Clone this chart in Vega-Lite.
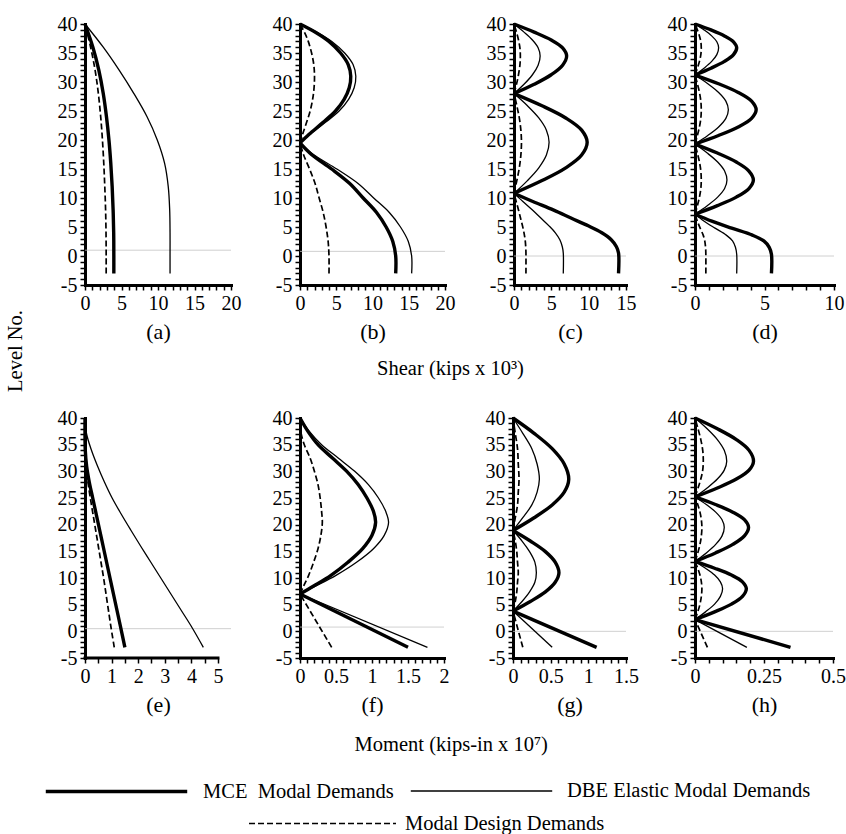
{
  "$schema": "https://vega.github.io/schema/vega-lite/v6.json",
  "padding": {"left": 5, "top": 14, "right": 5, "bottom": 5},
  "datasets": {
    "levels": [
      {"p":"a","g":0,"L":1},
      {"p":"a","g":1,"L":40,"MCE":0,"DBE":0,"Design":0},
      {"p":"a","g":1,"L":36,"MCE":1.08,"DBE":2.5,"Design":0.77},
      {"p":"a","g":1,"L":32,"MCE":1.9,"DBE":4.7,"Design":1.39},
      {"p":"a","g":1,"L":28,"MCE":2.5,"DBE":6.7,"Design":1.83},
      {"p":"a","g":1,"L":24,"MCE":2.94,"DBE":8.5,"Design":2.15},
      {"p":"a","g":1,"L":20,"MCE":3.28,"DBE":9.9,"Design":2.39},
      {"p":"a","g":1,"L":16,"MCE":3.53,"DBE":10.9,"Design":2.57},
      {"p":"a","g":1,"L":12,"MCE":3.72,"DBE":11.4,"Design":2.71},
      {"p":"a","g":1,"L":8,"MCE":3.85,"DBE":11.6,"Design":2.82},
      {"p":"a","g":1,"L":4,"MCE":3.93,"DBE":11.65,"Design":2.88},
      {"p":"a","g":1,"L":0,"MCE":3.95,"DBE":11.65,"Design":2.9},
      {"p":"a","g":1,"L":-3,"MCE":3.95,"DBE":11.65,"Design":2.9},

      {"p":"b","g":0,"L":0.8},
      {"p":"b","g":1,"L":40,"MCE":0,"DBE":0,"Design":0},
      {"p":"b","g":1,"L":38.5,"MCE":2.24,"DBE":2.46,"Design":0.64},
      {"p":"b","g":1,"L":37,"MCE":3.99,"DBE":4.39,"Design":1.14},
      {"p":"b","g":1,"L":35,"MCE":5.6,"DBE":6.16,"Design":1.6},
      {"p":"b","g":1,"L":33,"MCE":6.65,"DBE":7.32,"Design":1.9},
      {"p":"b","g":1,"L":31,"MCE":7,"DBE":7.7,"Design":2},
      {"p":"b","g":1,"L":29,"MCE":6.79,"DBE":7.47,"Design":1.94},
      {"p":"b","g":1,"L":27,"MCE":6.09,"DBE":6.7,"Design":1.74},
      {"p":"b","g":1,"L":25,"MCE":4.9,"DBE":5.39,"Design":1.4},
      {"p":"b","g":1,"L":23,"MCE":3.15,"DBE":3.47,"Design":0.9},
      {"p":"b","g":1,"L":21,"MCE":1.26,"DBE":1.39,"Design":0.36},
      {"p":"b","g":1,"L":19.5,"MCE":0,"DBE":0,"Design":0},
      {"p":"b","g":2,"L":19.5,"MCE":0,"DBE":0,"Design":0},
      {"p":"b","g":2,"L":17.5,"MCE":1.58,"DBE":1.85,"Design":0.48},
      {"p":"b","g":2,"L":15,"MCE":4.36,"DBE":5.08,"Design":1.32},
      {"p":"b","g":2,"L":12.5,"MCE":6.86,"DBE":8.01,"Design":2.08},
      {"p":"b","g":2,"L":10,"MCE":8.71,"DBE":10.16,"Design":2.64},
      {"p":"b","g":2,"L":7.5,"MCE":10.56,"DBE":12.32,"Design":3.2},
      {"p":"b","g":2,"L":5,"MCE":11.88,"DBE":13.86,"Design":3.6},
      {"p":"b","g":2,"L":2.5,"MCE":12.8,"DBE":14.94,"Design":3.88},
      {"p":"b","g":2,"L":0,"MCE":13.2,"DBE":15.4,"Design":4},
      {"p":"b","g":2,"L":-3,"MCE":13.2,"DBE":15.4,"Design":4},

      {"p":"c","g":0,"L":0},
      {"p":"c","g":1,"L":40,"MCE":0,"DBE":0,"Design":0},
      {"p":"c","g":1,"L":38.6,"MCE":2.7,"DBE":1.34,"Design":0.33},
      {"p":"c","g":1,"L":37.25,"MCE":4.98,"DBE":2.47,"Design":0.6},
      {"p":"c","g":1,"L":35.9,"MCE":6.51,"DBE":3.23,"Design":0.79},
      {"p":"c","g":1,"L":34.5,"MCE":7.05,"DBE":3.5,"Design":0.85},
      {"p":"c","g":1,"L":32.9,"MCE":6.51,"DBE":3.23,"Design":0.79},
      {"p":"c","g":1,"L":31.25,"MCE":4.98,"DBE":2.47,"Design":0.6},
      {"p":"c","g":1,"L":29.6,"MCE":2.7,"DBE":1.34,"Design":0.33},
      {"p":"c","g":1,"L":28,"MCE":0,"DBE":0,"Design":0},
      {"p":"c","g":2,"L":28,"MCE":0,"DBE":0,"Design":0},
      {"p":"c","g":2,"L":25.9,"MCE":3.75,"DBE":1.8,"Design":0.38},
      {"p":"c","g":2,"L":23.8,"MCE":6.93,"DBE":3.32,"Design":0.71},
      {"p":"c","g":2,"L":21.7,"MCE":9.06,"DBE":4.34,"Design":0.92},
      {"p":"c","g":2,"L":19.6,"MCE":9.8,"DBE":4.7,"Design":1},
      {"p":"c","g":2,"L":17.4,"MCE":9.06,"DBE":4.34,"Design":0.92},
      {"p":"c","g":2,"L":15.2,"MCE":6.93,"DBE":3.32,"Design":0.71},
      {"p":"c","g":2,"L":13,"MCE":3.75,"DBE":1.8,"Design":0.38},
      {"p":"c","g":2,"L":10.8,"MCE":0,"DBE":0,"Design":0},
      {"p":"c","g":3,"L":10.8,"MCE":0,"DBE":0,"Design":0},
      {"p":"c","g":3,"L":9.4,"MCE":2.52,"DBE":1.19,"Design":0.29},
      {"p":"c","g":3,"L":7.9,"MCE":5.32,"DBE":2.51,"Design":0.61},
      {"p":"c","g":3,"L":6.5,"MCE":7.7,"DBE":3.63,"Design":0.88},
      {"p":"c","g":3,"L":5.2,"MCE":9.94,"DBE":4.69,"Design":1.14},
      {"p":"c","g":3,"L":4,"MCE":11.76,"DBE":5.54,"Design":1.34},
      {"p":"c","g":3,"L":2.8,"MCE":13.02,"DBE":6.14,"Design":1.49},
      {"p":"c","g":3,"L":1.6,"MCE":13.72,"DBE":6.47,"Design":1.57},
      {"p":"c","g":3,"L":0.5,"MCE":14,"DBE":6.6,"Design":1.6},
      {"p":"c","g":3,"L":-3,"MCE":14,"DBE":6.6,"Design":1.6},

      {"p":"d","g":0,"L":0},
      {"p":"d","g":1,"L":40,"MCE":0,"DBE":0,"Design":0},
      {"p":"d","g":1,"L":38.98,"MCE":1.15,"DBE":0.65,"Design":0.17},
      {"p":"d","g":1,"L":37.95,"MCE":2.12,"DBE":1.2,"Design":0.32},
      {"p":"d","g":1,"L":36.93,"MCE":2.77,"DBE":1.57,"Design":0.42},
      {"p":"d","g":1,"L":35.9,"MCE":3,"DBE":1.7,"Design":0.45},
      {"p":"d","g":1,"L":34.72,"MCE":2.77,"DBE":1.57,"Design":0.42},
      {"p":"d","g":1,"L":33.55,"MCE":2.12,"DBE":1.2,"Design":0.32},
      {"p":"d","g":1,"L":32.38,"MCE":1.15,"DBE":0.65,"Design":0.17},
      {"p":"d","g":1,"L":31.2,"MCE":0,"DBE":0,"Design":0},
      {"p":"d","g":2,"L":31.2,"MCE":0,"DBE":0,"Design":0},
      {"p":"d","g":2,"L":29.7,"MCE":1.69,"DBE":0.92,"Design":0.17},
      {"p":"d","g":2,"L":28.2,"MCE":3.11,"DBE":1.7,"Design":0.32},
      {"p":"d","g":2,"L":26.7,"MCE":4.07,"DBE":2.22,"Design":0.42},
      {"p":"d","g":2,"L":25.2,"MCE":4.4,"DBE":2.4,"Design":0.45},
      {"p":"d","g":2,"L":23.73,"MCE":4.07,"DBE":2.22,"Design":0.42},
      {"p":"d","g":2,"L":22.25,"MCE":3.11,"DBE":1.7,"Design":0.32},
      {"p":"d","g":2,"L":20.78,"MCE":1.69,"DBE":0.92,"Design":0.17},
      {"p":"d","g":2,"L":19.3,"MCE":0,"DBE":0,"Design":0},
      {"p":"d","g":3,"L":19.3,"MCE":0,"DBE":0,"Design":0},
      {"p":"d","g":3,"L":17.75,"MCE":1.61,"DBE":0.88,"Design":0.17},
      {"p":"d","g":3,"L":16.2,"MCE":2.97,"DBE":1.63,"Design":0.32},
      {"p":"d","g":3,"L":14.65,"MCE":3.88,"DBE":2.13,"Design":0.42},
      {"p":"d","g":3,"L":13.1,"MCE":4.2,"DBE":2.3,"Design":0.45},
      {"p":"d","g":3,"L":11.63,"MCE":3.88,"DBE":2.13,"Design":0.42},
      {"p":"d","g":3,"L":10.15,"MCE":2.97,"DBE":1.63,"Design":0.32},
      {"p":"d","g":3,"L":8.68,"MCE":1.61,"DBE":0.88,"Design":0.17},
      {"p":"d","g":3,"L":7.2,"MCE":0,"DBE":0,"Design":0},
      {"p":"d","g":4,"L":7.2,"MCE":0,"DBE":0,"Design":0},
      {"p":"d","g":4,"L":6,"MCE":1.21,"DBE":0.66,"Design":0.17},
      {"p":"d","g":4,"L":4.8,"MCE":2.64,"DBE":1.44,"Design":0.37},
      {"p":"d","g":4,"L":3.6,"MCE":4.13,"DBE":2.25,"Design":0.59},
      {"p":"d","g":4,"L":2.6,"MCE":4.95,"DBE":2.7,"Design":0.7},
      {"p":"d","g":4,"L":1.5,"MCE":5.34,"DBE":2.91,"Design":0.76},
      {"p":"d","g":4,"L":0.3,"MCE":5.5,"DBE":3,"Design":0.78},
      {"p":"d","g":4,"L":-3,"MCE":5.5,"DBE":3,"Design":0.78},

      {"p":"e","g":0,"L":0.5},
      {"p":"e","g":1,"L":40,"MCE":0,"DBE":0,"Design":0},
      {"p":"e","g":1,"L":37,"MCE":0,"DBE":0.06,"Design":0},
      {"p":"e","g":1,"L":34,"MCE":0.01,"DBE":0.24,"Design":0.01},
      {"p":"e","g":1,"L":31,"MCE":0.06,"DBE":0.47,"Design":0.04},
      {"p":"e","g":1,"L":28,"MCE":0.16,"DBE":0.73,"Design":0.11},
      {"p":"e","g":1,"L":25,"MCE":0.29,"DBE":1.02,"Design":0.2},
      {"p":"e","g":1,"L":22,"MCE":0.42,"DBE":1.36,"Design":0.3},
      {"p":"e","g":1,"L":19,"MCE":0.55,"DBE":1.72,"Design":0.4},
      {"p":"e","g":1,"L":16,"MCE":0.68,"DBE":2.09,"Design":0.5},
      {"p":"e","g":1,"L":13,"MCE":0.81,"DBE":2.47,"Design":0.6},
      {"p":"e","g":1,"L":10,"MCE":0.94,"DBE":2.85,"Design":0.7},
      {"p":"e","g":1,"L":7,"MCE":1.07,"DBE":3.23,"Design":0.79},
      {"p":"e","g":1,"L":4,"MCE":1.2,"DBE":3.61,"Design":0.88},
      {"p":"e","g":1,"L":1,"MCE":1.33,"DBE":3.99,"Design":0.97},
      {"p":"e","g":1,"L":-3,"MCE":1.5,"DBE":4.45,"Design":1.1},

      {"p":"f","g":0,"L":0.8},
      {"p":"f","g":1,"L":40,"MCE":0,"DBE":0,"Design":0},
      {"p":"f","g":1,"L":37.5,"MCE":0.11,"DBE":0.13,"Design":0.01},
      {"p":"f","g":1,"L":35,"MCE":0.25,"DBE":0.3,"Design":0.06},
      {"p":"f","g":1,"L":32.5,"MCE":0.45,"DBE":0.53,"Design":0.14},
      {"p":"f","g":1,"L":30,"MCE":0.65,"DBE":0.76,"Design":0.2},
      {"p":"f","g":1,"L":27.5,"MCE":0.81,"DBE":0.95,"Design":0.25},
      {"p":"f","g":1,"L":25,"MCE":0.93,"DBE":1.09,"Design":0.28},
      {"p":"f","g":1,"L":22.5,"MCE":1.02,"DBE":1.19,"Design":0.3},
      {"p":"f","g":1,"L":20.4,"MCE":1.05,"DBE":1.23,"Design":0.31},
      {"p":"f","g":1,"L":18,"MCE":1,"DBE":1.17,"Design":0.29},
      {"p":"f","g":1,"L":15.5,"MCE":0.87,"DBE":1.02,"Design":0.25},
      {"p":"f","g":1,"L":13,"MCE":0.67,"DBE":0.79,"Design":0.19},
      {"p":"f","g":1,"L":10.5,"MCE":0.43,"DBE":0.5,"Design":0.12},
      {"p":"f","g":1,"L":8.5,"MCE":0.19,"DBE":0.22,"Design":0.05},
      {"p":"f","g":1,"L":7,"MCE":0,"DBE":0,"Design":0},
      {"p":"f","g":2,"L":7,"MCE":0,"DBE":0,"Design":0},
      {"p":"f","g":2,"L":-3,"MCE":1.5,"DBE":1.77,"Design":0.44},

      {"p":"g","g":0,"L":0},
      {"p":"g","g":1,"L":40,"MCE":0,"DBE":0,"Design":0},
      {"p":"g","g":1,"L":37.13,"MCE":0.28,"DBE":0.13,"Design":0.03},
      {"p":"g","g":1,"L":34.25,"MCE":0.52,"DBE":0.25,"Design":0.06},
      {"p":"g","g":1,"L":31.38,"MCE":0.68,"DBE":0.32,"Design":0.07},
      {"p":"g","g":1,"L":28.5,"MCE":0.74,"DBE":0.35,"Design":0.08},
      {"p":"g","g":1,"L":26.1,"MCE":0.68,"DBE":0.32,"Design":0.07},
      {"p":"g","g":1,"L":23.7,"MCE":0.52,"DBE":0.25,"Design":0.06},
      {"p":"g","g":1,"L":21.3,"MCE":0.28,"DBE":0.13,"Design":0.03},
      {"p":"g","g":1,"L":18.9,"MCE":0,"DBE":0,"Design":0},
      {"p":"g","g":2,"L":18.9,"MCE":0,"DBE":0,"Design":0},
      {"p":"g","g":2,"L":16.93,"MCE":0.23,"DBE":0.12,"Design":0.03},
      {"p":"g","g":2,"L":14.95,"MCE":0.43,"DBE":0.22,"Design":0.05},
      {"p":"g","g":2,"L":12.98,"MCE":0.56,"DBE":0.29,"Design":0.06},
      {"p":"g","g":2,"L":11,"MCE":0.61,"DBE":0.31,"Design":0.07},
      {"p":"g","g":2,"L":9.2,"MCE":0.56,"DBE":0.29,"Design":0.06},
      {"p":"g","g":2,"L":7.4,"MCE":0.43,"DBE":0.22,"Design":0.05},
      {"p":"g","g":2,"L":5.6,"MCE":0.23,"DBE":0.12,"Design":0.03},
      {"p":"g","g":2,"L":3.8,"MCE":0,"DBE":0,"Design":0},
      {"p":"g","g":3,"L":3.8,"MCE":0,"DBE":0,"Design":0},
      {"p":"g","g":3,"L":-3,"MCE":1.11,"DBE":0.52,"Design":0.13},

      {"p":"h","g":0,"L":0},
      {"p":"h","g":1,"L":40,"MCE":0,"DBE":0,"Design":0},
      {"p":"h","g":1,"L":37.98,"MCE":0.081,"DBE":0.044,"Design":0.011},
      {"p":"h","g":1,"L":35.95,"MCE":0.15,"DBE":0.081,"Design":0.021},
      {"p":"h","g":1,"L":33.93,"MCE":0.196,"DBE":0.106,"Design":0.028},
      {"p":"h","g":1,"L":31.9,"MCE":0.212,"DBE":0.115,"Design":0.03},
      {"p":"h","g":1,"L":30.23,"MCE":0.196,"DBE":0.106,"Design":0.028},
      {"p":"h","g":1,"L":28.55,"MCE":0.15,"DBE":0.081,"Design":0.021},
      {"p":"h","g":1,"L":26.88,"MCE":0.081,"DBE":0.044,"Design":0.011},
      {"p":"h","g":1,"L":25.2,"MCE":0,"DBE":0,"Design":0},
      {"p":"h","g":2,"L":25.2,"MCE":0,"DBE":0,"Design":0},
      {"p":"h","g":2,"L":23.78,"MCE":0.074,"DBE":0.041,"Design":0.01},
      {"p":"h","g":2,"L":22.35,"MCE":0.137,"DBE":0.075,"Design":0.018},
      {"p":"h","g":2,"L":20.93,"MCE":0.179,"DBE":0.098,"Design":0.023},
      {"p":"h","g":2,"L":19.5,"MCE":0.194,"DBE":0.106,"Design":0.025},
      {"p":"h","g":2,"L":17.9,"MCE":0.179,"DBE":0.098,"Design":0.023},
      {"p":"h","g":2,"L":16.3,"MCE":0.137,"DBE":0.075,"Design":0.018},
      {"p":"h","g":2,"L":14.7,"MCE":0.074,"DBE":0.041,"Design":0.01},
      {"p":"h","g":2,"L":13.1,"MCE":0,"DBE":0,"Design":0},
      {"p":"h","g":3,"L":13.1,"MCE":0,"DBE":0,"Design":0},
      {"p":"h","g":3,"L":11.83,"MCE":0.071,"DBE":0.038,"Design":0.01},
      {"p":"h","g":3,"L":10.55,"MCE":0.132,"DBE":0.071,"Design":0.018},
      {"p":"h","g":3,"L":9.28,"MCE":0.172,"DBE":0.092,"Design":0.023},
      {"p":"h","g":3,"L":8,"MCE":0.186,"DBE":0.1,"Design":0.025},
      {"p":"h","g":3,"L":6.55,"MCE":0.172,"DBE":0.092,"Design":0.023},
      {"p":"h","g":3,"L":5.1,"MCE":0.132,"DBE":0.071,"Design":0.018},
      {"p":"h","g":3,"L":3.65,"MCE":0.071,"DBE":0.038,"Design":0.01},
      {"p":"h","g":3,"L":2.2,"MCE":0,"DBE":0,"Design":0},
      {"p":"h","g":4,"L":2.2,"MCE":0,"DBE":0,"Design":0},
      {"p":"h","g":4,"L":-3,"MCE":0.346,"DBE":0.188,"Design":0.045}
    ]
  },
  "data": {"name": "levels"},
  "title": {"text": "Level No.", "orient": "left", "anchor": "middle", "offset": 18, "dx": 73},
  "spacing": 28,
  "vconcat": [
    {
      "hconcat": [
        {
          "width": 146, "height": 261,
          "transform": [{"filter": "datum.p === 'a'"}],
          "encoding": {"y": {"field": "L", "type": "quantitative", "scale": {"domain": [-5, 40], "nice": false, "zero": false}, "axis": {"title": null, "tickCount": 45, "labelExpr": "datum.value % 5 === 0 ? datum.value + '' : ''"}}},
          "layer": [
            {"transform": [{"filter": "datum.g === 0"}], "mark": {"type": "rule", "color": "#c4c4c4", "strokeWidth": 0.8}, "encoding": {}},
            {"transform": [{"filter": "datum.g > 0"}, {"fold": ["MCE", "DBE"], "as": ["s", "v"]}],
             "mark": {"type": "line", "interpolate": "catmull-rom", "color": "black", "strokeJoin": "round"},
             "encoding": {
               "x": {"field": "v", "type": "quantitative", "scale": {"domain": [0, 20], "nice": false}, "axis": {"title": "(a)", "tickCount": 20, "labelExpr": "datum.value % 5 === 0 ? datum.value + '' : ''"}},
               "order": {"field": "L", "type": "quantitative"},
               "detail": {"field": "g", "type": "nominal"},
               "strokeWidth": {"field": "s", "type": "ordinal", "scale": {"domain": ["MCE", "DBE"], "range": [3.4, 1.3]},
                 "legend": {"title": null, "orient": "none", "legendX": -41, "legendY": 695, "direction": "horizontal", "symbolType": "stroke", "symbolSize": 20000, "symbolStrokeColor": "black", "labelOffset": 14, "columnPadding": 14,
                   "labelExpr": "datum.value === 'MCE' ? 'MCE\u00a0 Modal Demands' : 'DBE Elastic Modal Demands'"}}
             }},
            {"transform": [{"filter": "datum.g > 0"}, {"fold": ["Design"], "as": ["s", "v"]}],
             "mark": {"type": "line", "interpolate": "catmull-rom", "color": "black", "strokeWidth": 1.7},
             "encoding": {
               "x": {"field": "v", "type": "quantitative", "scale": {"domain": [0, 20], "nice": false}, "axis": {"title": "(a)", "tickCount": 20, "labelExpr": "datum.value % 5 === 0 ? datum.value + '' : ''"}},
               "order": {"field": "L", "type": "quantitative"},
               "detail": {"field": "g", "type": "nominal"},
               "strokeDash": {"field": "s", "type": "nominal", "scale": {"domain": ["Design"], "range": [[6, 3]]},
                 "legend": {"title": null, "orient": "none", "legendX": 163, "legendY": 725, "symbolType": "stroke", "symbolSize": 21600, "symbolStrokeColor": "black", "symbolStrokeWidth": 1.7, "labelOffset": 8,
                   "labelExpr": "'Modal Design Demands'"}}
             }}
          ]
        },
        {
          "width": 145, "height": 261,
          "transform": [{"filter": "datum.p === 'b'"}],
          "encoding": {"y": {"field": "L", "type": "quantitative", "scale": {"domain": [-5, 40], "nice": false, "zero": false}, "axis": {"title": null, "tickCount": 45, "labelExpr": "datum.value % 5 === 0 ? datum.value + '' : ''"}}},
          "layer": [
            {"transform": [{"filter": "datum.g === 0"}], "mark": {"type": "rule", "color": "#c4c4c4", "strokeWidth": 0.8}, "encoding": {}},
            {"transform": [{"filter": "datum.g > 0"}, {"fold": ["MCE", "DBE"], "as": ["s", "v"]}],
             "mark": {"type": "line", "interpolate": "catmull-rom", "color": "black", "strokeJoin": "round"},
             "encoding": {
               "x": {"field": "v", "type": "quantitative", "scale": {"domain": [0, 20], "nice": false}, "axis": {"title": "(b)", "tickCount": 20, "labelExpr": "datum.value % 5 === 0 ? datum.value + '' : ''"}},
               "order": {"field": "L", "type": "quantitative"},
               "detail": {"field": "g", "type": "nominal"},
               "strokeWidth": {"field": "s", "type": "ordinal", "scale": {"domain": ["MCE", "DBE"], "range": [3.4, 1.3]}, "legend": null}
             }},
            {"transform": [{"filter": "datum.g > 0"}, {"fold": ["Design"], "as": ["s", "v"]}],
             "mark": {"type": "line", "interpolate": "catmull-rom", "color": "black", "strokeWidth": 1.7},
             "encoding": {
               "x": {"field": "v", "type": "quantitative", "scale": {"domain": [0, 20], "nice": false}, "axis": {"title": "(b)", "tickCount": 20, "labelExpr": "datum.value % 5 === 0 ? datum.value + '' : ''"}},
               "order": {"field": "L", "type": "quantitative"},
               "detail": {"field": "g", "type": "nominal"},
               "strokeDash": {"field": "s", "type": "nominal", "scale": {"domain": ["Design"], "range": [[6, 3]]}, "legend": null}
             }}
          ]
        },
        {
          "width": 112, "height": 261,
          "transform": [{"filter": "datum.p === 'c'"}],
          "encoding": {"y": {"field": "L", "type": "quantitative", "scale": {"domain": [-5, 40], "nice": false, "zero": false}, "axis": {"title": null, "tickCount": 45, "labelExpr": "datum.value % 5 === 0 ? datum.value + '' : ''"}}},
          "layer": [
            {"transform": [{"filter": "datum.g === 0"}], "mark": {"type": "rule", "color": "#c4c4c4", "strokeWidth": 0.8}, "encoding": {}},
            {"transform": [{"filter": "datum.g > 0"}, {"fold": ["MCE", "DBE"], "as": ["s", "v"]}],
             "mark": {"type": "line", "interpolate": "catmull-rom", "color": "black", "strokeJoin": "round"},
             "encoding": {
               "x": {"field": "v", "type": "quantitative", "scale": {"domain": [0, 15], "nice": false}, "axis": {"title": "(c)", "tickCount": 15, "labelExpr": "datum.value % 5 === 0 ? datum.value + '' : ''"}},
               "order": {"field": "L", "type": "quantitative"},
               "detail": {"field": "g", "type": "nominal"},
               "strokeWidth": {"field": "s", "type": "ordinal", "scale": {"domain": ["MCE", "DBE"], "range": [3.4, 1.3]}, "legend": null}
             }},
            {"transform": [{"filter": "datum.g > 0"}, {"fold": ["Design"], "as": ["s", "v"]}],
             "mark": {"type": "line", "interpolate": "catmull-rom", "color": "black", "strokeWidth": 1.7},
             "encoding": {
               "x": {"field": "v", "type": "quantitative", "scale": {"domain": [0, 15], "nice": false}, "axis": {"title": "(c)", "tickCount": 15, "labelExpr": "datum.value % 5 === 0 ? datum.value + '' : ''"}},
               "order": {"field": "L", "type": "quantitative"},
               "detail": {"field": "g", "type": "nominal"},
               "strokeDash": {"field": "s", "type": "nominal", "scale": {"domain": ["Design"], "range": [[6, 3]]}, "legend": null}
             }}
          ]
        },
        {
          "width": 139, "height": 261,
          "transform": [{"filter": "datum.p === 'd'"}],
          "encoding": {"y": {"field": "L", "type": "quantitative", "scale": {"domain": [-5, 40], "nice": false, "zero": false}, "axis": {"title": null, "tickCount": 45, "labelExpr": "datum.value % 5 === 0 ? datum.value + '' : ''"}}},
          "layer": [
            {"transform": [{"filter": "datum.g === 0"}], "mark": {"type": "rule", "color": "#c4c4c4", "strokeWidth": 0.8}, "encoding": {}},
            {"transform": [{"filter": "datum.g > 0"}, {"fold": ["MCE", "DBE"], "as": ["s", "v"]}],
             "mark": {"type": "line", "interpolate": "catmull-rom", "color": "black", "strokeJoin": "round"},
             "encoding": {
               "x": {"field": "v", "type": "quantitative", "scale": {"domain": [0, 10], "nice": false}, "axis": {"title": "(d)", "tickCount": 10, "labelExpr": "datum.value % 5 === 0 ? datum.value + '' : ''"}},
               "order": {"field": "L", "type": "quantitative"},
               "detail": {"field": "g", "type": "nominal"},
               "strokeWidth": {"field": "s", "type": "ordinal", "scale": {"domain": ["MCE", "DBE"], "range": [3.4, 1.3]}, "legend": null}
             }},
            {"transform": [{"filter": "datum.g > 0"}, {"fold": ["Design"], "as": ["s", "v"]}],
             "mark": {"type": "line", "interpolate": "catmull-rom", "color": "black", "strokeWidth": 1.7},
             "encoding": {
               "x": {"field": "v", "type": "quantitative", "scale": {"domain": [0, 10], "nice": false}, "axis": {"title": "(d)", "tickCount": 10, "labelExpr": "datum.value % 5 === 0 ? datum.value + '' : ''"}},
               "order": {"field": "L", "type": "quantitative"},
               "detail": {"field": "g", "type": "nominal"},
               "strokeDash": {"field": "s", "type": "nominal", "scale": {"domain": ["Design"], "range": [[6, 3]]}, "legend": null}
             }}
          ]
        }
      ],
      "spacing": 69,
      "bounds": "flush",
      "title": {"text": "Shear (kips x 10³)", "orient": "bottom", "anchor": "middle", "offset": 17}
    },
    {
      "hconcat": [
        {
          "width": 146, "height": 240,
          "transform": [{"filter": "datum.p === 'e'"}],
          "encoding": {"y": {"field": "L", "type": "quantitative", "scale": {"domain": [-5, 40], "nice": false, "zero": false}, "axis": {"title": null, "tickCount": 45, "labelExpr": "datum.value % 5 === 0 ? datum.value + '' : ''"}}},
          "layer": [
            {"transform": [{"filter": "datum.g === 0"}], "mark": {"type": "rule", "color": "#c4c4c4", "strokeWidth": 0.8}, "encoding": {}},
            {"transform": [{"filter": "datum.g === 0"}], "mark": {"type": "rule", "color": "black", "strokeWidth": 3, "strokeCap": "square"},
             "encoding": {"x": {"datum": 0}, "x2": {"datum": 5}, "y": {"datum": -5}}},
            {"transform": [{"filter": "datum.g > 0"}, {"fold": ["MCE", "DBE"], "as": ["s", "v"]}],
             "mark": {"type": "line", "interpolate": "catmull-rom", "color": "black", "strokeJoin": "round"},
             "encoding": {
               "x": {"field": "v", "type": "quantitative", "scale": {"domain": [0, 5.49], "nice": false}, "axis": {"title": "(e)", "tickCount": 11, "domain": false, "labelExpr": "datum.value % 1 === 0 ? datum.value + '' : ''"}},
               "order": {"field": "L", "type": "quantitative"},
               "detail": {"field": "g", "type": "nominal"},
               "strokeWidth": {"field": "s", "type": "ordinal", "scale": {"domain": ["MCE", "DBE"], "range": [3.4, 1.3]}, "legend": null}
             }},
            {"transform": [{"filter": "datum.g > 0"}, {"fold": ["Design"], "as": ["s", "v"]}],
             "mark": {"type": "line", "interpolate": "catmull-rom", "color": "black", "strokeWidth": 1.7},
             "encoding": {
               "x": {"field": "v", "type": "quantitative", "scale": {"domain": [0, 5.49], "nice": false}, "axis": {"title": "(e)", "tickCount": 11, "domain": false, "labelExpr": "datum.value % 1 === 0 ? datum.value + '' : ''"}},
               "order": {"field": "L", "type": "quantitative"},
               "detail": {"field": "g", "type": "nominal"},
               "strokeDash": {"field": "s", "type": "nominal", "scale": {"domain": ["Design"], "range": [[6, 3]]}, "legend": null}
             }}
          ]
        },
        {
          "width": 144, "height": 240,
          "transform": [{"filter": "datum.p === 'f'"}],
          "encoding": {"y": {"field": "L", "type": "quantitative", "scale": {"domain": [-5, 40], "nice": false, "zero": false}, "axis": {"title": null, "tickCount": 45, "labelExpr": "datum.value % 5 === 0 ? datum.value + '' : ''"}}},
          "layer": [
            {"transform": [{"filter": "datum.g === 0"}], "mark": {"type": "rule", "color": "#c4c4c4", "strokeWidth": 0.8}, "encoding": {}},
            {"transform": [{"filter": "datum.g > 0"}, {"fold": ["MCE", "DBE"], "as": ["s", "v"]}],
             "mark": {"type": "line", "interpolate": "catmull-rom", "color": "black", "strokeJoin": "round"},
             "encoding": {
               "x": {"field": "v", "type": "quantitative", "scale": {"domain": [0, 2], "nice": false}, "axis": {"title": "(f)", "tickCount": 20, "labelExpr": "datum.value * 2 === round(datum.value * 2) ? datum.value + '' : ''"}},
               "order": {"field": "L", "type": "quantitative"},
               "detail": {"field": "g", "type": "nominal"},
               "strokeWidth": {"field": "s", "type": "ordinal", "scale": {"domain": ["MCE", "DBE"], "range": [3.4, 1.3]}, "legend": null}
             }},
            {"transform": [{"filter": "datum.g > 0"}, {"fold": ["Design"], "as": ["s", "v"]}],
             "mark": {"type": "line", "interpolate": "catmull-rom", "color": "black", "strokeWidth": 1.7},
             "encoding": {
               "x": {"field": "v", "type": "quantitative", "scale": {"domain": [0, 2], "nice": false}, "axis": {"title": "(f)", "tickCount": 20, "labelExpr": "datum.value * 2 === round(datum.value * 2) ? datum.value + '' : ''"}},
               "order": {"field": "L", "type": "quantitative"},
               "detail": {"field": "g", "type": "nominal"},
               "strokeDash": {"field": "s", "type": "nominal", "scale": {"domain": ["Design"], "range": [[6, 3]]}, "legend": null}
             }}
          ]
        },
        {
          "width": 113, "height": 240,
          "transform": [{"filter": "datum.p === 'g'"}],
          "encoding": {"y": {"field": "L", "type": "quantitative", "scale": {"domain": [-5, 40], "nice": false, "zero": false}, "axis": {"title": null, "tickCount": 45, "labelExpr": "datum.value % 5 === 0 ? datum.value + '' : ''"}}},
          "layer": [
            {"transform": [{"filter": "datum.g === 0"}], "mark": {"type": "rule", "color": "#c4c4c4", "strokeWidth": 0.8}, "encoding": {}},
            {"transform": [{"filter": "datum.g > 0"}, {"fold": ["MCE", "DBE"], "as": ["s", "v"]}],
             "mark": {"type": "line", "interpolate": "catmull-rom", "color": "black", "strokeJoin": "round"},
             "encoding": {
               "x": {"field": "v", "type": "quantitative", "scale": {"domain": [0, 1.5], "nice": false}, "axis": {"title": "(g)", "tickCount": 15, "labelExpr": "datum.value * 2 === round(datum.value * 2) ? datum.value + '' : ''"}},
               "order": {"field": "L", "type": "quantitative"},
               "detail": {"field": "g", "type": "nominal"},
               "strokeWidth": {"field": "s", "type": "ordinal", "scale": {"domain": ["MCE", "DBE"], "range": [3.4, 1.3]}, "legend": null}
             }},
            {"transform": [{"filter": "datum.g > 0"}, {"fold": ["Design"], "as": ["s", "v"]}],
             "mark": {"type": "line", "interpolate": "catmull-rom", "color": "black", "strokeWidth": 1.7},
             "encoding": {
               "x": {"field": "v", "type": "quantitative", "scale": {"domain": [0, 1.5], "nice": false}, "axis": {"title": "(g)", "tickCount": 15, "labelExpr": "datum.value * 2 === round(datum.value * 2) ? datum.value + '' : ''"}},
               "order": {"field": "L", "type": "quantitative"},
               "detail": {"field": "g", "type": "nominal"},
               "strokeDash": {"field": "s", "type": "nominal", "scale": {"domain": ["Design"], "range": [[6, 3]]}, "legend": null}
             }}
          ]
        },
        {
          "width": 138, "height": 240,
          "transform": [{"filter": "datum.p === 'h'"}],
          "encoding": {"y": {"field": "L", "type": "quantitative", "scale": {"domain": [-5, 40], "nice": false, "zero": false}, "axis": {"title": null, "tickCount": 45, "labelExpr": "datum.value % 5 === 0 ? datum.value + '' : ''"}}},
          "layer": [
            {"transform": [{"filter": "datum.g === 0"}], "mark": {"type": "rule", "color": "#c4c4c4", "strokeWidth": 0.8}, "encoding": {}},
            {"transform": [{"filter": "datum.g > 0"}, {"fold": ["MCE", "DBE"], "as": ["s", "v"]}],
             "mark": {"type": "line", "interpolate": "catmull-rom", "color": "black", "strokeJoin": "round"},
             "encoding": {
               "x": {"field": "v", "type": "quantitative", "scale": {"domain": [0, 0.5], "nice": false}, "axis": {"title": "(h)", "tickCount": 10, "labelExpr": "datum.value * 4 === round(datum.value * 4) ? datum.value + '' : ''"}},
               "order": {"field": "L", "type": "quantitative"},
               "detail": {"field": "g", "type": "nominal"},
               "strokeWidth": {"field": "s", "type": "ordinal", "scale": {"domain": ["MCE", "DBE"], "range": [3.4, 1.3]}, "legend": null}
             }},
            {"transform": [{"filter": "datum.g > 0"}, {"fold": ["Design"], "as": ["s", "v"]}],
             "mark": {"type": "line", "interpolate": "catmull-rom", "color": "black", "strokeWidth": 1.7},
             "encoding": {
               "x": {"field": "v", "type": "quantitative", "scale": {"domain": [0, 0.5], "nice": false}, "axis": {"title": "(h)", "tickCount": 10, "labelExpr": "datum.value * 4 === round(datum.value * 4) ? datum.value + '' : ''"}},
               "order": {"field": "L", "type": "quantitative"},
               "detail": {"field": "g", "type": "nominal"},
               "strokeDash": {"field": "s", "type": "nominal", "scale": {"domain": ["Design"], "range": [[6, 3]]}, "legend": null}
             }}
          ]
        }
      ],
      "spacing": 69,
      "bounds": "flush",
      "title": {"text": "Moment (kips-in x 10⁷)", "orient": "bottom", "anchor": "middle", "offset": 20}
    }
  ],
  "config": {
    "view": {"stroke": null},
    "font": "Liberation Serif",
    "axis": {
      "domainColor": "black", "domainWidth": 3, "domainCap": "square",
      "tickColor": "black", "tickWidth": 1.5, "tickSize": 5,
      "labelFont": "Liberation Serif", "labelFontSize": 20, "labelColor": "black", "labelPadding": 3,
      "labelOverlap": false, "labelFlush": false, "grid": false,
      "titleFont": "Liberation Serif", "titleFontSize": 22, "titleFontWeight": "normal", "titleColor": "black", "titlePadding": 8
    },
    "legend": {"labelFont": "Liberation Serif", "labelFontSize": 20.5, "labelColor": "black", "labelLimit": 500, "padding": 0},
    "title": {"font": "Liberation Serif", "fontSize": 20.5, "fontWeight": "normal", "color": "black"}
  }
}
